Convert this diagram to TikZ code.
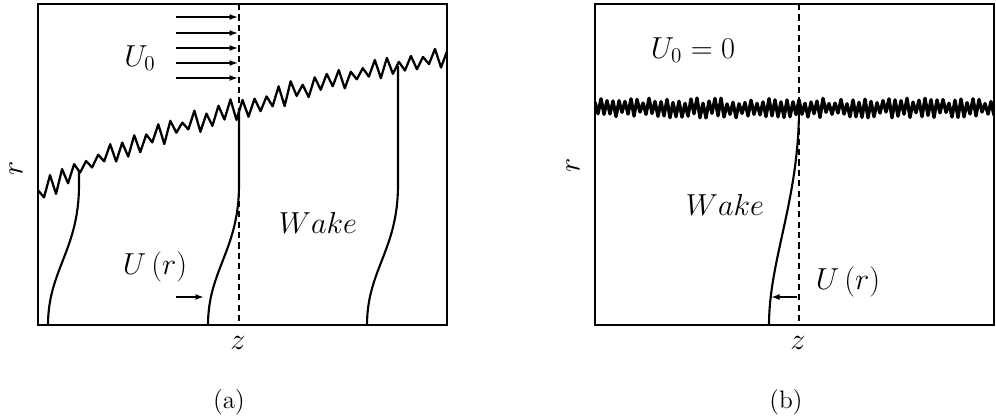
\documentclass[tikz,border=0pt]{standalone}
\usetikzlibrary{arrows.meta}
\tikzset{
  >={Latex[length=1.7mm,width=1.2mm]},
  plate/.style={draw,line width=0.6pt},
  centreline/.style={line width=1.1pt,dash pattern=on 3.5pt off 2.4pt},
  profile/.style={line width=1.2pt},
  wave/.style={line width=#1,line join=round},
  wave/.default=1.3pt,
  inflow/.style={->,line width=0.9pt},
  probe/.style={->,line width=1.5pt},
  lbl/.style={font=\LARGE,inner sep=1pt},
  caption/.style={font=\Large},
}
\begin{document}
\begin{tikzpicture}[x=0.02cm,y=-0.02cm]
  \useasboundingbox (0,0) rectangle (996,416);
  \pgfmathsetseed{7}
  % (a) jet into moving fluid
  \draw[plate] (38,4) rectangle (447,325);
  \begin{scope}
    \clip (38,4) rectangle (447,325);
    \draw[wave] plot[variable=\k,domain=0:68,samples=69]
      ({38+6.015*\k},{251.8-9.3*sqrt(38+6.015*\k)+(2*mod(round(\k),2)-1)*(3+9*rnd)});
  \end{scope}
  \coordinate (zA top) at (239,4);
  \coordinate (zA bot) at (239,325);
  \draw[centreline] (zA top) -- (zA bot);
  \foreach \y [count=\i] in {17,33,48,63,78}{
    \coordinate (inA\i) at (176,\y);
    \coordinate (atA\i) at (238,\y);
    \draw[inflow] (inA\i) -- (atA\i);
  }
  \foreach \x/\t in {48/170,208/108,367/66}
    \draw[profile] (\x,325) .. controls (\x,270) and (\x+31,250) .. (\x+31,185) -- (\x+31,\t);
  \coordinate (uA from) at (176,297);
  \coordinate (uA to) at (204,297);
  \draw[probe] (uA from) -- (uA to);
  \node[lbl] (u0A) at (140,58) {$U_0$};
  \node[lbl] (urA) at (155,267) {$U\left(r\right)$};
  \node[lbl] (wakeA) at (318,223) {$Wake$};
  \node[lbl] (zA) at (238,343) {$z$};
  \node[lbl,rotate=90] (rA) at (16,168) {$r$};
  \node[caption] (capA) at (229,402) {(a)};

  % (b) jet into fluid at rest
  \draw[plate] (595,4) rectangle (994,325);
  \begin{scope}
    \clip (595,4) rectangle (994,325);
    \draw[wave=1.9pt] plot[variable=\k,domain=0:133,samples=134]
      ({595+3*\k},{108+(2*mod(round(\k),2)-1)*(4+6*rnd)});
  \end{scope}
  \coordinate (zB top) at (799,4);
  \coordinate (zB bot) at (799,325);
  \draw[centreline] (zB top) -- (zB bot);
  \draw[profile] (769,325) .. controls (769,260) and (799,200) .. (799,108);
  \coordinate (uB from) at (797,297);
  \coordinate (uB to) at (771,297);
  \draw[probe] (uB from) -- (uB to);
  \node[lbl] (u0B) at (693,50) {$U_0=0$};
  \node[lbl] (wakeB) at (725,205) {$Wake$};
  \node[lbl] (urB) at (848,282) {$U\left(r\right)$};
  \node[lbl] (zB) at (798,343) {$z$};
  \node[lbl,rotate=90] (rB) at (573,165) {$r$};
  \node[caption] (capB) at (786,402) {(b)};
\end{tikzpicture}
\end{document}
